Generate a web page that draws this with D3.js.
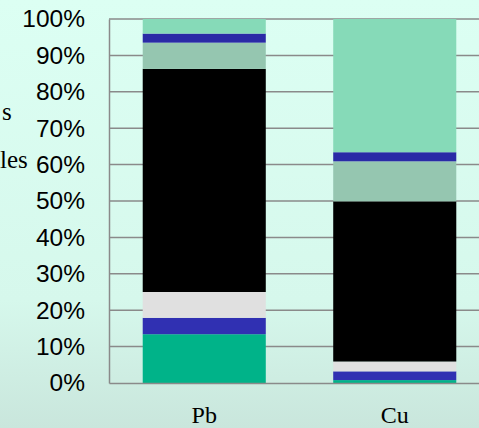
<!DOCTYPE html>
<html>
<head>
<meta charset="utf-8">
<script src="https://cdn.jsdelivr.net/npm/d3@7"></script>
<style>
  html, body { margin: 0; padding: 0; overflow: hidden; }
  svg { display: block; }
</style>
</head>
<body>
<svg id="chart" width="479" height="428"></svg>
<script>
// Element categories along the x axis
const categories = ["Pb", "Cu"];

// Stacked fractions (percent), bottom to top
const seriesNames = ["F1", "F2", "F3", "F4", "F5", "F6", "F7"];
const pbValues = [13.4, 4.5, 7.1, 61.3, 7.2, 2.5, 4.0];
const cuValues = [0.8, 2.4, 2.7, 44.0, 11.0, 2.5, 36.6];
const seriesColors = ["#00b389", "#3030b2", "#e0e0e0", "#000000", "#95c6b0", "#2a2aa6", "#86dab8"];

// Y tick labels
const yTicks = [0, 10, 20, 30, 40, 50, 60, 70, 80, 90, 100];

// Tail ends of the legend entries at the left edge
const legendTails = ["s", "les"];

const svg = d3.select("#chart");
const W = 479, H = 428;
const margin = { left: 109, top: 19, right: -11, bottom: 45 };

// Background gradient
const defs = svg.append("defs");
const grad = defs.append("linearGradient")
  .attr("id", "bg").attr("x1", 0).attr("y1", 0).attr("x2", 0).attr("y2", 1);
grad.append("stop").attr("offset", "0%").attr("stop-color", "#dcfff3");
grad.append("stop").attr("offset", "70%").attr("stop-color", "#d6f8ec");
grad.append("stop").attr("offset", "100%").attr("stop-color", "#c9e6dc");
svg.append("rect").attr("width", W).attr("height", H).attr("fill", "url(#bg)");

const x = d3.scaleBand()
  .domain(categories)
  .range([margin.left, W - margin.right])
  .paddingInner(0.354)
  .paddingOuter(0.177);

const y = d3.scaleLinear()
  .domain([0, 100])
  .range([H - margin.bottom, margin.top]);

// Gridlines
svg.append("g")
  .selectAll("line")
  .data(yTicks.filter(d => d > 0))
  .join("line")
  .attr("x1", margin.left)
  .attr("x2", W - margin.right)
  .attr("y1", d => y(d))
  .attr("y2", d => y(d))
  .attr("stroke", "#8a8a8a")
  .attr("stroke-width", 1.5);

// Stack the series
const rows = categories.map((c, i) => {
  const r = { category: c };
  seriesNames.forEach((s, j) => { r[s] = (i === 0 ? pbValues : cuValues)[j]; });
  return r;
});
const stacked = d3.stack().keys(seriesNames)(rows);

svg.append("g")
  .selectAll("g")
  .data(stacked)
  .join("g")
  .attr("fill", (d, i) => seriesColors[i])
  .selectAll("rect")
  .data(d => d)
  .join("rect")
  .attr("x", d => x(d.data.category))
  .attr("width", x.bandwidth())
  .attr("y", d => y(d[1]))
  .attr("height", d => y(d[0]) - y(d[1]));

// Y axis
const yAxis = svg.append("g")
  .attr("transform", `translate(${margin.left},0)`)
  .call(d3.axisLeft(y).tickValues(yTicks).tickSize(0).tickPadding(24).tickFormat(d => d + "%"));
yAxis.select(".domain").attr("stroke", "#8a8a8a").attr("stroke-width", 1.5);
yAxis.selectAll("text")
  .attr("font-family", "'Liberation Sans', Arial, sans-serif")
  .attr("font-size", 24.5)
  .attr("fill", "#000");

// X axis
const xAxis = svg.append("g")
  .attr("transform", `translate(0,${H - margin.bottom})`)
  .call(d3.axisBottom(x).tickSize(0).tickPadding(23));
xAxis.select(".domain").attr("stroke", "#8a8a8a").attr("stroke-width", 1.5);
xAxis.selectAll("text")
  .attr("font-family", "'Liberation Serif', 'Times New Roman', serif")
  .attr("font-size", 24)
  .attr("fill", "#000");

// Legend text tails
svg.append("g")
  .selectAll("text")
  .data(legendTails)
  .join("text")
  .attr("x", (d, i) => i === 0 ? 2 : 0)
  .attr("y", (d, i) => i === 0 ? 120 : 168)
  .attr("text-anchor", "start")
  .attr("font-family", "'Liberation Serif', 'Times New Roman', serif")
  .attr("font-size", 25)
  .attr("fill", "#000")
  .text(d => d);
</script>
</body>
</html>
